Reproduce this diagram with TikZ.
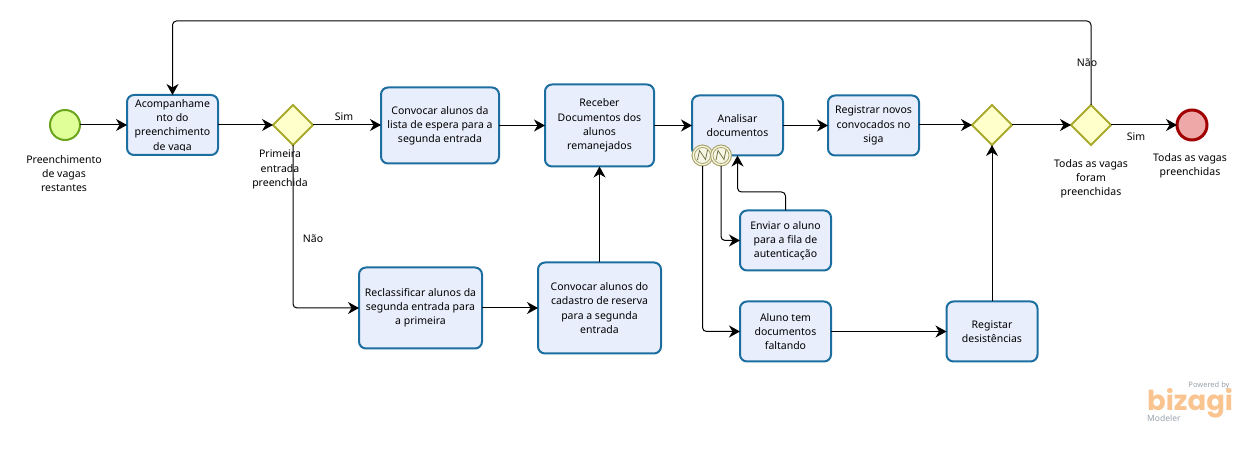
\documentclass[tikz,border=0pt]{standalone}
\usepackage{fontspec}
\setmainfont{Noto Sans}
\newfontfamily\logofont{Poppins}
\usetikzlibrary{arrows.meta,shapes.geometric}

\definecolor{taskline}{HTML}{1C6EA0}
\definecolor{taskfill}{HTML}{E9EEFC}
\definecolor{gateline}{HTML}{A9A92C}
\definecolor{gatefill}{HTML}{FFFFCC}
\definecolor{startline}{HTML}{6BA51E}
\definecolor{startfill}{HTML}{E0FF99}
\definecolor{endline}{HTML}{A00000}
\definecolor{endfill}{HTML}{EEA8A8}
\definecolor{eventline}{HTML}{A9A56A}
\definecolor{eventfill}{HTML}{F6F6E4}
\definecolor{logoorange}{HTML}{F9C48F}
\definecolor{logogray}{HTML}{98A2AB}

\tikzset{
    txt/.style={font=\fontsize{10.5}{14.2}\selectfont, align=center, inner sep=0pt},
    task/.style={txt, draw=taskline, fill=taskfill, line width=2pt, rounded corners=7pt,
        outer sep=0pt, minimum width=#1},
    gate/.style={diamond, aspect=1, draw=gateline, fill=gatefill, line width=2pt,
        minimum width=40pt, minimum height=40pt, inner sep=0pt, outer sep=0pt},
    flow/.style={-{Stealth[length=11pt,width=12pt,inset=3.5pt]}, line width=1pt, rounded corners=4pt},
}

\begin{document}
\begin{tikzpicture}[x=1pt,y=-1pt]
    \useasboundingbox (0,0) rectangle (1254,454);

    % events
    \node[circle, draw=startline, fill=startfill, line width=2pt, minimum size=30pt, inner sep=0pt, outer sep=0pt] (inicio) at (65,125) {};
    \node[circle, draw=endline, fill=endfill, line width=3pt, minimum size=30pt, inner sep=0pt, outer sep=0pt] (fim) at (1192,125) {};

    % tasks
    \node[task=91pt, minimum height=60pt] (acomp) at (172.5,125) {};
    \begin{scope}
        \clip (128,97) rectangle (217,150.5);
        \node[txt] (acomptxt) at (172.5,126) {Acompanhame\\nto do\\preenchimento\\de vaga};
    \end{scope}
    \node[task=118pt, minimum height=76pt] (lista) at (440,125.5) {Convocar alunos da\\lista de espera para a\\segunda entrada};
    \node[task=109pt, minimum height=82pt] (receber) at (599.5,125.5) {Receber\\Documentos dos\\alunos\\remanejados};
    \node[task=91pt, minimum height=60pt] (analisar) at (737.5,125.5) {Analisar\\documentos};
    \node[task=91pt, minimum height=60pt] (registrar) at (873.5,125.5) {Registrar novos\\convocados no\\siga};
    \node[task=91pt, minimum height=60pt] (enviar) at (785.5,240.5) {Enviar o aluno\\para a fila de\\autenticação};
    \node[task=91pt, minimum height=60pt] (faltando) at (785.5,331.5) {Aluno tem\\documentos\\faltando};
    \node[task=91pt, minimum height=60pt] (desist) at (992,331.5) {Registar\\desistências};
    \node[task=123pt, minimum height=81pt] (reclass) at (420.5,308) {Reclassificar alunos da\\segunda entrada para\\a primeira};
    \node[task=123pt, minimum height=91pt] (cadastro) at (599.5,308) {Convocar alunos do\\cadastro de reserva\\para a segunda\\entrada};

    % gateways
    \node[gate] (gw1) at (293,125) {};
    \node[gate] (gw2) at (992,125) {};
    \node[gate] (gw3) at (1091,125) {};

    % attached events
    \foreach \name/\x in {ev1/702.5, ev2/721} {
        \node[circle, draw=eventline, fill=eventfill, line width=1pt, minimum size=21pt, inner sep=0pt, outer sep=0pt] (\name) at (\x,155.5) {};
        \node[circle, draw=eventline, line width=.8pt, minimum size=16pt, inner sep=0pt] (\name in) at (\x,155.5) {};
        \draw[eventline!70!black, line width=.8pt] (\x-5,160) -- (\x-3,150.5) -- (\x+3,159.5) -- (\x+5,150);
    }

    % corners of the long connectors
    \coordinate (topR) at (1091,21);
    \coordinate (topL) at (172.5,21);
    \coordinate (back) at (737.5,192);

    % connectors
    \draw[flow] (inicio) -- (inicio -| acomp.west);
    \draw[flow] (acomp.east |- gw1) -- (gw1);
    \draw[flow] (gw1) -- (gw1 -| lista.west);
    \draw[flow] (lista) -- (receber);
    \draw[flow] (receber) -- (analisar);
    \draw[flow] (analisar) -- (registrar);
    \draw[flow] (registrar.east |- gw2) -- (gw2);
    \draw[flow] (gw2) -- (gw3);
    \draw[flow] (gw3) -- (fim);
    \draw[flow] (gw1.south) |- (reclass.west);
    \draw[flow] (reclass) -- (reclass -| cadastro.west);
    \draw[flow] (cadastro.north) -- (receber.south);
    \draw[flow] (faltando) -- (desist);
    \draw[flow] (desist.north) -- (gw2.south);
    \draw[flow] (gw3.north) -- (topR) -- (topL) -- (acomp.north);
    \draw[flow] (ev1.south) |- (faltando.west);
    \draw[flow] (ev2.south) |- (enviar.west);
    \draw[flow] (enviar.north) |- (back) -- (analisar.south);

    % labels
    \node[txt] (linicio) at (64,173.5) {Preenchimento\\de vagas\\restantes};
    \node[txt] (lgw1) at (280,169.5) {Primeira\\entrada\\preenchida};
    \node[txt] (lgw3) at (1091,178.5) {Todas as vagas\\foram\\preenchidas};
    \node[txt] (lfim) at (1190,165.5) {Todas as vagas\\preenchidas};
    \node[txt] (lsim1) at (344,116.5) {Sim};
    \node[txt] (lnao1) at (313,238.5) {Não};
    \node[txt] (lnao2) at (1087,63) {Não};
    \node[txt] (lsim2) at (1136,136.5) {Sim};

    % logo
    \node[font=\fontsize{7.5}{8}\selectfont\bfseries, text=logogray, inner sep=0pt] (powered) at (1209,386) {Powered by};
    \node[font=\logofont\bfseries\fontsize{27.5}{28}\selectfont, text=logoorange, inner sep=0pt, anchor=base west] (logo) at (1147,410.5) {bizagi};
    \node[font=\fontsize{8.5}{9}\selectfont, text=logogray, inner sep=0pt, anchor=west] (modeler) at (1147,418.5) {Modeler};
\end{tikzpicture}
\end{document}
